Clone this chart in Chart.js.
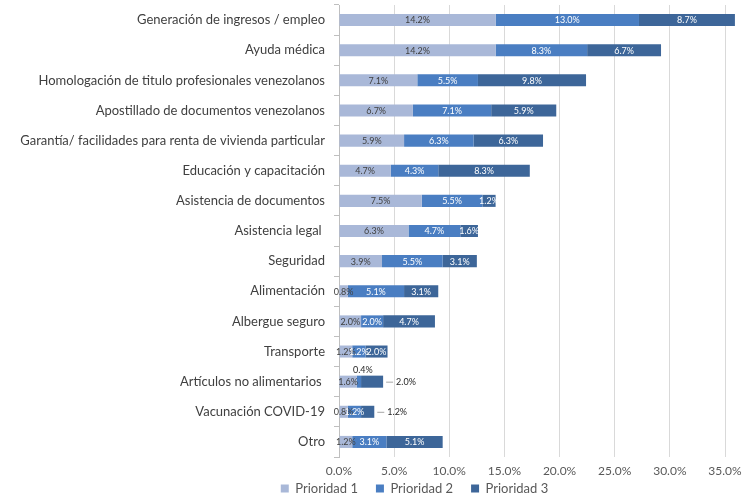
<!DOCTYPE html>
<html>
<head>
<meta charset="utf-8">
<script src="https://cdn.jsdelivr.net/npm/chart.js@4"></script>
<style>
  html, body { margin: 0; padding: 0; background: #fff; }
  #wrap { width: 756px; height: 496px; }
</style>
</head>
<body>
<div id="wrap"><canvas id="needsChart" width="756" height="496"></canvas></div>
<script>
// Necesidades por prioridad (% de respuestas)
const categories = [
    'Generación de ingresos / empleo',
    'Ayuda médica',
    'Homologación de titulo profesionales venezolanos',
    'Apostillado de documentos venezolanos',
    'Garantía/ facilidades para renta de vivienda particular',
    'Educación y capacitación',
    'Asistencia de documentos',
    'Asistencia legal ',
    'Seguridad',
    'Alimentación',
    'Albergue seguro',
    'Transporte',
    'Artículos no alimentarios ',
    'Vacunación COVID-19',
    'Otro'
];
const prioridad1 = [14.2, 14.2, 7.1, 6.7, 5.9, 4.7, 7.5, 6.3, 3.9, 0.8, 2.0, 1.2, 1.6, 0.8, 1.2];
const prioridad2 = [13.0, 8.3, 5.5, 7.1, 6.3, 4.3, 5.5, 4.7, 5.5, 5.1, 2.0, 1.2, 0.4, 1.2, 3.1];
const prioridad3 = [8.7, 6.7, 9.8, 5.9, 6.3, 8.3, 1.2, 1.6, 3.1, 3.1, 4.7, 2.0, 2.0, 1.2, 5.1];
const seriesNames = ['Prioridad 1', 'Prioridad 2', 'Prioridad 3'];
const xTicks = [0, 5, 10, 15, 20, 25, 30, 35];

const colors = ['#a9b8d8', '#4a7ec2', '#3d6699'];
const labelColors = ['#404040', '#ffffff', '#ffffff'];

// labels that don't fit inside their segment get moved (per dataset index)
const calloutPlaces = {
    'Artículos no alimentarios ': { 1: 'above', 2: 'right' },
    'Vacunación COVID-19': { 2: 'right' }
};

const AXIS_X = 339;

Chart.defaults.font.family = 'Lato, "Open Sans", sans-serif';

// draws the value of each segment on top of the bars
const segmentLabels = {
    id: 'segmentLabels',
    afterDatasetsDraw(chart) {
        const ctx = chart.ctx;
        ctx.save();
        ctx.font = '9px Lato, "Open Sans", sans-serif';
        ctx.textBaseline = 'middle';
        chart.data.datasets.forEach((ds, i) => {
            const meta = chart.getDatasetMeta(i);
            meta.data.forEach((bar, j) => {
                const text = ds.data[j].toFixed(1) + '%';
                const special = calloutPlaces[chart.data.labels[j]] || {};
                const place = special[i] || 'inside';
                const mid = (bar.x + bar.base) / 2;
                if (place === 'inside') {
                    ctx.fillStyle = labelColors[i];
                    ctx.textAlign = 'center';
                    ctx.fillText(text, mid, bar.y + 0.5);
                } else if (place === 'above') {
                    ctx.fillStyle = '#262626';
                    ctx.textAlign = 'center';
                    ctx.fillText(text, mid + 4, bar.y - 12);
                } else {
                    ctx.strokeStyle = '#a6a6a6';
                    ctx.lineWidth = 1;
                    ctx.beginPath();
                    ctx.moveTo(bar.x + 3, bar.y + 0.5);
                    ctx.lineTo(bar.x + 10, bar.y + 0.5);
                    ctx.stroke();
                    ctx.fillStyle = '#262626';
                    ctx.textAlign = 'left';
                    ctx.fillText(text, bar.x + 13, bar.y + 0.5);
                }
            });
        });
        ctx.restore();
    }
};

// nudge the legend so it sits under the plot area rather than the whole canvas
const legendNudge = {
    id: 'legendNudge',
    afterLayout(chart) {
        const lg = chart.legend;
        lg.left += 52;
        lg.right += 52;
        lg.top -= 17;
        lg.bottom -= 17;
    }
};

const allSeries = [prioridad1, prioridad2, prioridad3];

const chart = new Chart(document.getElementById('needsChart'), {
    type: 'bar',
    data: {
        labels: categories,
        datasets: allSeries.map((values, i) => ({
            label: seriesNames[i],
            data: values,
            backgroundColor: colors[i],
            borderWidth: 0,
            barPercentage: 0.4,
            categoryPercentage: 1,
            clip: false
        }))
    },
    plugins: [segmentLabels, legendNudge],
    options: {
        indexAxis: 'y',
        responsive: false,
        animation: false,
        layout: { padding: { left: 0, right: 31, top: 5, bottom: -26 } },
        scales: {
            x: {
                stacked: true,
                min: 0,
                max: 35,
                afterBuildTicks: (scale) => { scale.ticks = xTicks.map(v => ({ value: v })); },
                afterFit: (scale) => {
                    scale.height = 24;
                    scale.paddingLeft = 0;
                    scale.paddingRight = 0;
                },
                ticks: {
                    callback: (v) => v.toFixed(1) + '%',
                    color: '#595959',
                    font: { size: 12 },
                    padding: 7
                },
                grid: { color: '#d9d9d9', drawTicks: false },
                border: { display: false }
            },
            y: {
                stacked: true,
                afterFit: (scale) => {
                    scale.width = AXIS_X;
                    scale.paddingTop = 0;
                    scale.paddingBottom = 0;
                },
                ticks: {
                    color: '#404040',
                    font: { size: 13 },
                    padding: 9
                },
                grid: { display: true, drawOnChartArea: false, offset: true, tickLength: 5, color: '#bfbfbf' },
                border: { color: '#bfbfbf' }
            }
        },
        plugins: {
            legend: {
                position: 'bottom',
                labels: {
                    boxWidth: 8,
                    boxHeight: 8,
                    color: '#595959',
                    font: { size: 13 },
                    padding: 18
                }
            },
            tooltip: { enabled: false }
        }
    }
});
</script>
</body>
</html>
